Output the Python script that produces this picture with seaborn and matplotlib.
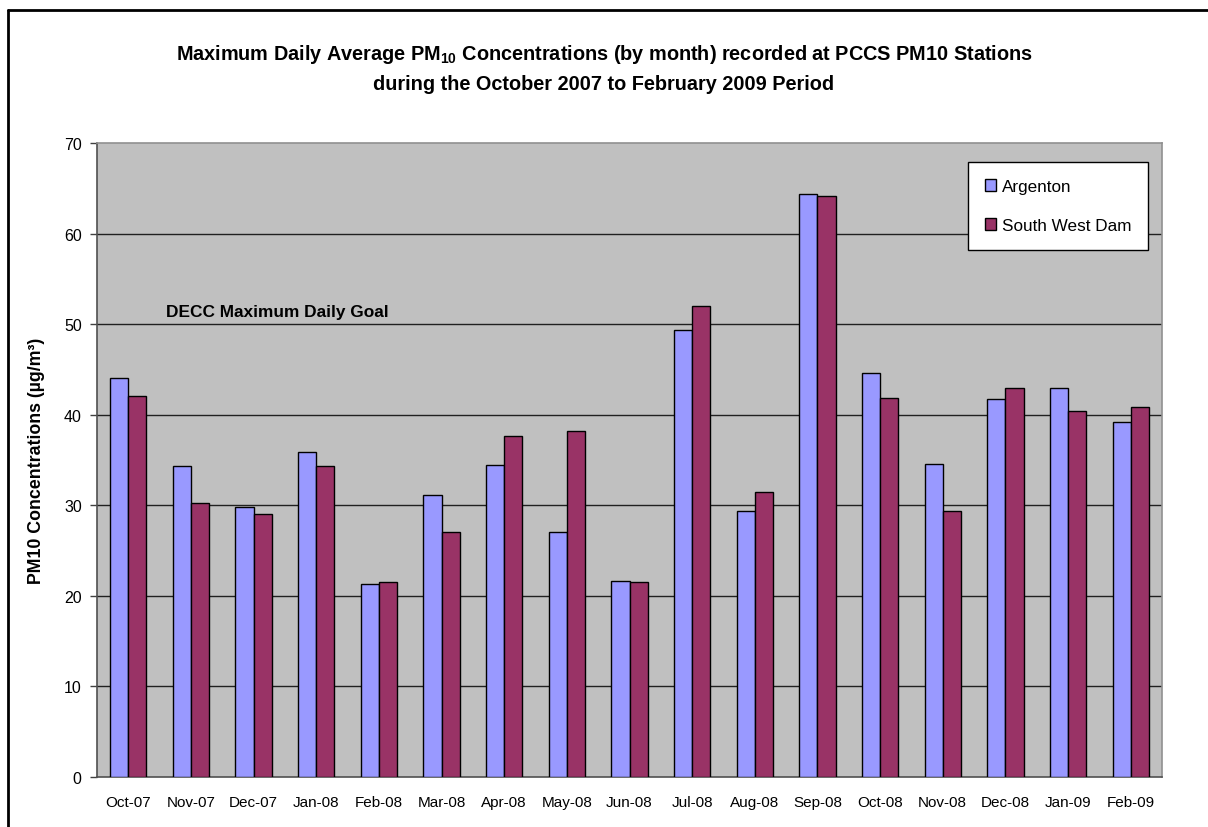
import matplotlib
matplotlib.use("Agg")
import matplotlib.pyplot as plt
import matplotlib.ticker as mticker
from matplotlib.lines import Line2D
import seaborn as sns
import pandas as pd
import numpy as np

months = ["Oct-07", "Nov-07", "Dec-07", "Jan-08", "Feb-08", "Mar-08", "Apr-08",
          "May-08", "Jun-08", "Jul-08", "Aug-08", "Sep-08", "Oct-08", "Nov-08",
          "Dec-08", "Jan-09", "Feb-09"]
argenton = [44.1, 34.3, 29.8, 35.9, 21.3, 31.1, 34.5, 27.0, 21.6, 49.3, 29.4,
            64.4, 44.6, 34.6, 41.7, 43.0, 39.2]
south_west_dam = [42.1, 30.2, 29.0, 34.3, 21.5, 27.1, 37.6, 38.2, 21.5, 52.0,
                  31.5, 64.2, 41.8, 29.4, 43.0, 40.4, 40.9]
stations = ["Argenton", "South West Dam"]
colors = ["#9999FF", "#993366"]

goal_label = "DECC Maximum Daily Goal"
goal_value = 50

df = pd.DataFrame({
    "month": months * 2,
    "value": argenton + south_west_dam,
    "station": [stations[0]] * len(months) + [stations[1]] * len(months),
})

sns.set_style("white")
plt.rcParams['font.family'] = ['Liberation Sans', 'DejaVu Sans']
plt.rcParams['mathtext.fontset'] = 'custom'
plt.rcParams['mathtext.rm'] = 'Liberation Sans'
plt.rcParams['mathtext.bf'] = 'Liberation Sans:bold'
plt.rcParams['text.color'] = 'black'
plt.rcParams['axes.labelcolor'] = 'black'

fig = plt.figure(figsize=(12.08, 8.28), dpi=100)
ax = fig.add_axes([97 / 1208, 1 - 778 / 828, (1162 - 97) / 1208, (778 - 144) / 828])
ax.set_facecolor("#C0C0C0")

sns.barplot(data=df, x="month", y="value", hue="station", palette=colors,
            width=0.58, saturation=1, edgecolor="black", linewidth=1,
            ax=ax, zorder=3)

ax.set_ylim(0, 70)
ax.set_xlim(-0.5, len(months) - 0.5)
ax.yaxis.set_major_locator(mticker.MultipleLocator(10))
for v in range(10, 70, 10):
    ax.axhline(v, color="#202020", linewidth=1, zorder=1)

# category ticks sit between groups (Excel style)
ax.xaxis.set_minor_locator(mticker.FixedLocator(np.arange(-0.5, len(months), 1)))
ax.tick_params(axis="x", which="major", length=0, pad=13, labelsize=11, labelcolor="black")
ax.tick_params(axis="x", which="minor", length=5, width=1, color="#404040", direction="out")
ax.tick_params(axis="y", length=5, width=1, color="#404040", direction="out",
               pad=6, labelsize=11.5, left=True, labelcolor="black")

for side in ["left", "bottom"]:
    ax.spines[side].set_color("#505050")
    ax.spines[side].set_linewidth(1.2)
for side in ["top", "right"]:
    ax.spines[side].set_color("#909090")
    ax.spines[side].set_linewidth(1.2)

ax.set_xlabel("")
ax.set_ylabel("PM10 Concentrations (µg/m³)", fontsize=12.8, fontweight="bold")
ax.yaxis.set_label_coords(-0.049, 0.5)

ax.text(0.6, goal_value + 1.4, goal_label, fontsize=12.4, fontweight="bold",
        ha="left", va="center", zorder=4)

leg = ax.legend(loc="upper right", bbox_to_anchor=(0.987, 0.970), borderaxespad=0,
                fontsize=12.3, frameon=True, fancybox=False, edgecolor="black",
                framealpha=1, labelspacing=1.4, handlelength=0.65, handleheight=0.65,
                handletextpad=0.3, borderpad=1.0)
leg.get_frame().set_linewidth(1)
leg.get_frame().set_facecolor("white")

fig.text(0.5, 1 - 55 / 828, r"Maximum Daily Average PM$_{\mathbf{10}}$ Concentrations (by month) recorded at PCCS PM10 Stations",
         ha="center", va="center", fontsize=14.3, fontweight="bold")
fig.text(0.5, 1 - 85 / 828, "during the October 2007 to February 2009 Period",
         ha="center", va="center", fontsize=14.3, fontweight="bold")

# outer chart frame
fig.add_artist(Line2D([8 / 1208, 8 / 1208], [-0.05, 1 - 11 / 828], transform=fig.transFigure,
                      color="black", linewidth=2))
fig.add_artist(Line2D([8 / 1208, 1.05], [1 - 11 / 828, 1 - 11 / 828], transform=fig.transFigure,
                      color="black", linewidth=2))

fig.savefig("out.png", dpi=100)
